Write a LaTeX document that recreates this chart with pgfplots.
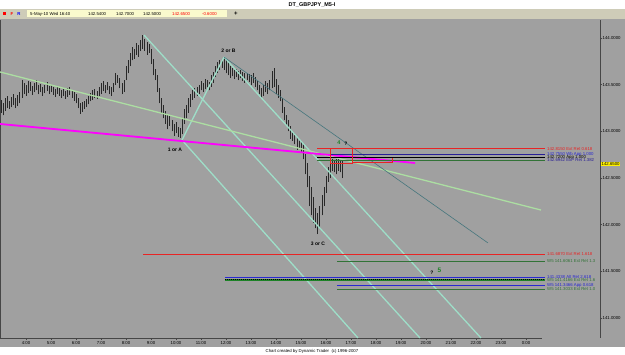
\documentclass[border=0pt]{standalone}
\usepackage{pgfplots}
\pgfplotsset{compat=1.18}
\usepackage{pgfplotstable}
\usepackage{fontspec}
\setmainfont{Liberation Sans}
\definecolor{chartgray}{RGB}{160,160,160}
\definecolor{toolc}{RGB}{206,204,184}
\definecolor{ybox}{RGB}{250,250,205}
\definecolor{barc}{RGB}{40,40,40}
\definecolor{aquac}{RGB}{158,222,200}
\definecolor{paleg}{RGB}{172,222,162}
\definecolor{tealc}{RGB}{70,118,125}
\definecolor{magc}{RGB}{255,0,255}
\definecolor{lvred}{RGB}{232,36,36}
\definecolor{lvblue}{RGB}{40,30,150}
\definecolor{lvgreen}{RGB}{50,115,55}
\definecolor{lblue}{RGB}{40,40,210}
\definecolor{txtgreen}{RGB}{30,130,40}
\definecolor{framec}{RGB}{70,70,70}
\newcommand\tf{\fontsize{4.3}{5}\selectfont}
\pgfplotstableread{
k lo hi
0 143.20 143.34
1 143.17 143.30
2 143.22 143.36
3 143.25 143.38
4 143.24 143.33
5 143.26 143.37
6 143.28 143.40
7 143.25 143.36
8 143.27 143.39
9 143.30 143.42
10 143.36 143.55
11 143.40 143.52
12 143.38 143.50
13 143.41 143.54
14 143.43 143.53
15 143.39 143.49
16 143.42 143.52
17 143.44 143.55
18 143.40 143.50
19 143.42 143.51
20 143.38 143.48
21 143.41 143.50
22 143.43 143.53
23 143.40 143.49
24 143.42 143.50
25 143.39 143.47
26 143.37 143.45
27 143.40 143.48
28 143.38 143.46
29 143.36 143.44
30 143.38 143.45
31 143.35 143.43
32 143.37 143.46
33 143.39 143.47
34 143.36 143.43
35 143.33 143.42
36 143.30 143.40
37 143.25 143.36
38 143.19 143.30
39 143.21 143.31
40 143.24 143.33
41 143.26 143.35
42 143.29 143.38
43 143.32 143.41
44 143.34 143.44
45 143.36 143.45
46 143.35 143.43
47 143.38 143.47
48 143.40 143.52
49 143.43 143.54
50 143.41 143.50
51 143.44 143.53
52 143.40 143.49
53 143.38 143.47
54 143.42 143.52
55 143.50 143.62
56 143.52 143.60
57 143.46 143.57
58 143.40 143.52
59 143.42 143.55
60 143.55 143.70
61 143.62 143.76
62 143.70 143.84
63 143.76 143.90
64 143.78 143.88
65 143.82 143.95
66 143.80 143.93
67 143.86 143.98
68 143.88 144.03
69 143.86 143.99
70 143.82 143.96
71 143.84 143.94
72 143.72 143.88
73 143.60 143.78
74 143.55 143.67
75 143.42 143.60
76 143.30 143.46
77 143.20 143.36
78 143.14 143.28
79 143.08 143.22
80 143.02 143.18
81 143.06 143.16
82 143.00 143.12
83 142.95 143.08
84 142.98 143.10
85 142.94 143.05
86 142.93 143.04
87 142.97 143.14
88 143.08 143.24
89 143.14 143.28
90 143.20 143.36
91 143.26 143.40
92 143.34 143.44
93 143.36 143.46
94 143.38 143.48
95 143.40 143.50
96 143.44 143.54
97 143.42 143.52
98 143.45 143.56
99 143.47 143.55
100 143.44 143.53
101 143.48 143.60
102 143.52 143.64
103 143.58 143.70
104 143.62 143.74
105 143.66 143.76
106 143.68 143.78
107 143.66 143.80
108 143.62 143.76
109 143.60 143.74
110 143.57 143.70
111 143.59 143.68
112 143.56 143.66
113 143.58 143.67
114 143.55 143.65
115 143.57 143.66
116 143.54 143.64
117 143.52 143.62
118 143.55 143.63
119 143.53 143.61
120 143.50 143.60
121 143.52 143.62
122 143.48 143.58
123 143.44 143.54
124 143.40 143.50
125 143.36 143.46
126 143.38 143.50
127 143.42 143.54
128 143.40 143.52
129 143.44 143.55
130 143.46 143.65
131 143.48 143.68
132 143.40 143.56
133 143.36 143.50
134 143.32 143.44
135 143.20 143.36
136 143.12 143.26
137 143.06 143.18
138 143.00 143.12
139 142.92 143.06
140 142.90 143.00
141 142.86 142.98
142 142.80 142.94
143 142.82 142.92
144 142.78 142.90
145 142.70 142.86
146 142.54 142.76
147 142.40 142.66
148 142.20 142.52
149 142.10 142.40
150 142.02 142.30
151 141.96 142.18
152 141.90 142.12
153 141.98 142.20
154 142.10 142.32
155 142.20 142.40
156 142.34 142.52
157 142.46 142.62
158 142.50 142.66
159 142.58 142.70
160 142.56 142.68
161 142.54 142.70
162 142.58 142.72
163 142.56 142.68
164 142.50 142.70
}\bars
\begin{document}
\begin{tikzpicture}
\fill[chartgray] (0pt,0pt) rectangle (625pt,355pt);
\fill[white] (0pt,346pt) rectangle (625pt,355pt);
\fill[toolc] (0pt,336pt) rectangle (625pt,346pt);
\fill[white] (0pt,0pt) rectangle (625pt,8pt);
\node[font=\bfseries\fontsize{5.5}{6}\selectfont] at (312pt,350.5pt) {DT\_GBPJPY\_M5-I};
\fill[ybox] (27pt,337.5pt) rectangle (227pt,344.5pt);
\fill[red] (3pt,339.5pt) rectangle (6pt,342.5pt);
\node[font=\bfseries\tf, text=red] at (12pt,341pt) {F};
\node[font=\bfseries\tf, text=blue] at (19pt,341pt) {R};
\node[font=\bfseries\fontsize{6}{6}\selectfont] at (236pt,341pt) {+};
\node[font=\tf, anchor=west, inner sep=0pt] at (30pt,341pt) {5-May-10 Wed 16:40};
\node[font=\tf, anchor=west, inner sep=0pt] at (88pt,341pt) {142.5400};
\node[font=\tf, anchor=west, inner sep=0pt] at (116pt,341pt) {142.7000};
\node[font=\tf, anchor=west, inner sep=0pt] at (143pt,341pt) {142.5000};
\node[font=\tf, anchor=west, inner sep=0pt, text=red] at (172pt,341pt) {142.6500};
\node[font=\tf, anchor=west, inner sep=0pt, text=red] at (202pt,341pt) {-0.6000};
\node[font=\tf] at (312pt,4pt) {Chart created by Dynamic Trader \ (c) 1996-2007};
\begin{axis}[
  at={(0pt,17pt)}, anchor=south west,
  scale only axis, width=600pt, height=318pt,
  xmin=2.96, xmax=26.96, ymin=140.786, ymax=144.193,
  clip=false,
  axis line style={draw=none},
  xtick={4,...,24},
  xticklabels={4:00,5:00,6:00,7:00,8:00,9:00,10:00,11:00,12:00,13:00,14:00,15:00,16:00,17:00,18:00,19:00,20:00,21:00,22:00,23:00,0:00},
  ytick={141,141.5,142,142.5,143,143.5,144},
  tick align=outside, major tick length=2pt,
  xtick pos=left, ytick pos=right, yticklabel pos=right,
  tick style={draw=framec, line width=0.4pt},
  /pgf/number format/assume math mode=true,
  xticklabel style={font=\tf, inner sep=0.5pt, yshift=-1pt},
  yticklabel style={font=\tf, inner sep=0.5pt, /pgf/number format/fixed, /pgf/number format/fixed zerofill, /pgf/number format/precision=4},
]
\draw[framec, line width=0.6pt] (rel axis cs:0,0) -- (rel axis cs:0,1);
\draw[framec, line width=0.6pt] (rel axis cs:0,0) -- (axis cs:24.64,140.786);
\draw[framec, line width=0.6pt] (rel axis cs:1,0) -- (rel axis cs:1,1);
% price bars
\addplot[only marks, mark=*, mark size=0pt, mark options={draw=none, fill=none}, color=barc, forget plot,
  error bars/.cd, y dir=plus, y explicit, error mark=none,
  error bar style={draw=barc, line width=0.6pt}]
  table[x expr=3+\thisrow{k}/12, y=lo, y error expr=\thisrow{hi}-\thisrow{lo}] {\bars};
% channel lines
\addplot[aquac, line width=1.3pt] coordinates {(10.24,142.907) (17.28,140.786)};
\addplot[aquac, line width=1.3pt] coordinates {(8.72,144.032) (19.76,140.786)};
\addplot[aquac, line width=1.3pt] coordinates {(11.92,143.796) (22.20,140.786)};
\addplot[aquac, line width=1.3pt] coordinates {(10.24,142.907) (11.92,143.796)};
\addplot[paleg, line width=1.3pt] coordinates {(2.96,143.636) (24.60,142.157)};
\addplot[tealc, line width=0.6pt] coordinates {(11.92,143.796) (22.48,141.804)};
\addplot[magc, line width=1.8pt] coordinates {(2.96,143.079) (19.56,142.661)};
% upper levels
\addplot[lvred, line width=1.4pt] coordinates {(15.64,142.815) (24.76,142.815)};
\addplot[lvblue, line width=1.2pt] coordinates {(16.16,142.755) (24.76,142.755)};
\addplot[black, line width=1.3pt] coordinates {(15.64,142.720) (24.76,142.720)};
\addplot[lvgreen, line width=0.7pt] coordinates {(15.64,142.690) (24.76,142.690)};
\addplot[lvred, line width=0.5pt] coordinates {(16.16,142.815) (17.04,142.815) (17.04,142.66) (16.16,142.66) (16.16,142.815)};
\addplot[lvred, line width=0.5pt] coordinates {(17.04,142.665) (18.64,142.665) (18.64,142.71)};
% lower levels
\addplot[lvred, line width=0.8pt] coordinates {(8.68,141.686) (24.76,141.686)};
\addplot[lvgreen, line width=0.7pt] coordinates {(16.44,141.610) (24.76,141.610)};
\addplot[lblue, line width=0.7pt] coordinates {(11.96,141.440) (24.76,141.440)};
\addplot[txtgreen, line width=1.5pt] coordinates {(11.96,141.410) (24.76,141.410)};
\addplot[black, line width=0.6pt, dash pattern=on 1pt off 1pt] coordinates {(11.96,141.410) (24.76,141.410)};
\addplot[lblue, line width=0.7pt] coordinates {(16.44,141.354) (24.76,141.354)};
\addplot[lvgreen, line width=0.7pt] coordinates {(16.44,141.307) (24.76,141.307)};
% level labels
\node[font=\tf, anchor=west, inner sep=0pt, text=lvred] at (axis cs:24.84,142.815) {142.8150 Ext Ret 0.618};
\node[font=\tf, anchor=west, inner sep=0pt, text=lblue] at (axis cs:24.84,142.755) {142.7550 Wb App 1.000};
\node[font=\tf, anchor=west, inner sep=0pt, text=black] at (axis cs:24.84,142.720) {142.7200 App 1.000};
\node[font=\tf, anchor=west, inner sep=0pt, text=lvblue] at (axis cs:24.84,142.688) {142.6942 ExP Ret 1.382};
\node[font=\tf, anchor=west, inner sep=0pt, text=lvred] at (axis cs:24.84,141.686) {141.6870 Ext Ret 1.618};
\node[font=\tf, anchor=west, inner sep=0pt, text=lvgreen] at (axis cs:24.84,141.610) {W5 141.6061 Ext Ret 1.3};
\node[font=\tf, anchor=west, inner sep=0pt, text=lblue] at (axis cs:24.84,141.442) {141.4338 Alt Ret 2.618};
\node[font=\tf, anchor=west, inner sep=0pt, text=lvgreen] at (axis cs:24.84,141.410) {W5 141.4166 Ext Ret 1.6};
\node[font=\tf, anchor=west, inner sep=0pt, text=lblue] at (axis cs:24.84,141.354) {W5 141.3466 App 0.618};
\node[font=\tf, anchor=west, inner sep=0pt, text=lvgreen] at (axis cs:24.84,141.307) {W5 141.3033 Ext Ret 1.0};
% current price box
\node[font=\tf, anchor=west, fill=yellow, inner sep=0.7pt] at (axis cs:26.99,142.65) {142.6500};
% wave labels
\node[font=\bfseries\fontsize{5}{6}\selectfont] at (axis cs:9.96,142.80) {1 or A};
\node[font=\bfseries\fontsize{5}{6}\selectfont] at (axis cs:12.10,143.865) {2 or B};
\node[font=\bfseries\fontsize{5}{6}\selectfont] at (axis cs:15.68,141.80) {3 or C};
\node[font=\bfseries\fontsize{5.5}{6}\selectfont, text=txtgreen] at (axis cs:16.52,142.875) {4};
\node[font=\bfseries\fontsize{5}{6}\selectfont] at (axis cs:16.80,142.870) {?};
\node[font=\bfseries\fontsize{5}{6}\selectfont] at (axis cs:20.24,141.49) {?};
\node[font=\bfseries\fontsize{6.5}{7}\selectfont, text=txtgreen] at (axis cs:20.54,141.51) {5};
\end{axis}
\pgfresetboundingbox
\useasboundingbox (0pt,0pt) rectangle (625pt,355pt);
\end{tikzpicture}
\end{document}
